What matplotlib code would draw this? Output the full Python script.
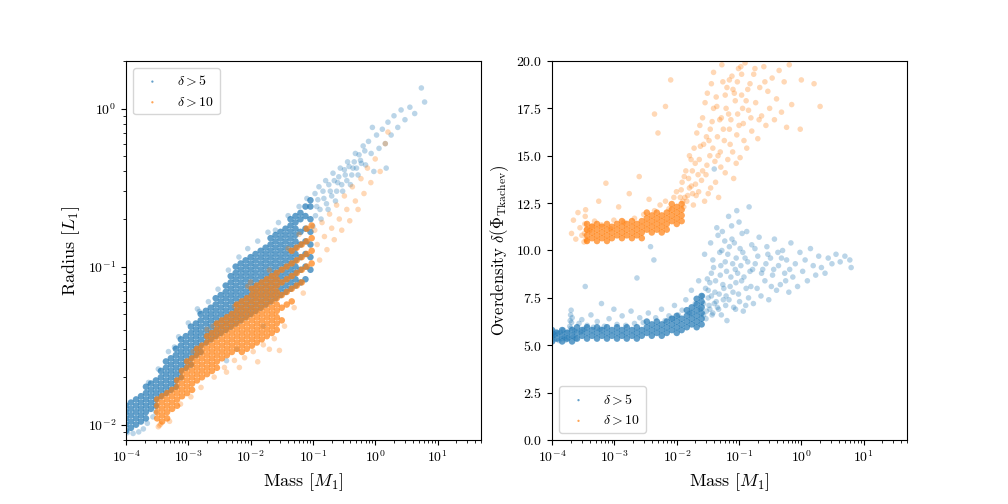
import matplotlib
matplotlib.use('Agg')
import matplotlib.pyplot as plt

# ---- values ----
# dense parts of the clouds: (mass [M_1], [values at that mass])
# sparse parts: plain (mass, value) points

# left panel, delta > 5: radius [L_1]
radius_d5_band = [
    (1.00e-4, [0.00912, 0.0100, 0.01096, 0.01202, 0.01318]),
    (1.20e-4, [0.00955, 0.01047, 0.01148, 0.01259, 0.0138]),
    (1.45e-4, [0.0100, 0.01096, 0.01202, 0.01318, 0.01445]),
    (1.74e-4, [0.01047, 0.01148, 0.01259, 0.0138, 0.01514]),
    (2.09e-4, [0.01096, 0.01202, 0.01318, 0.01445, 0.01585, 0.01738]),
    (2.51e-4, [0.01259, 0.0138, 0.01514, 0.0166, 0.0182]),
    (3.02e-4, [0.01318, 0.01445, 0.01585, 0.01738, 0.01905]),
    (3.63e-4, [0.01514, 0.0166, 0.0182, 0.01995, 0.02188]),
    (4.37e-4, [0.01585, 0.01738, 0.01905, 0.02089, 0.02291, 0.02512]),
    (5.25e-4, [0.0166, 0.0182, 0.01995, 0.02188, 0.02399, 0.0263]),
    (6.31e-4, [0.01738, 0.01905, 0.02089, 0.02291, 0.02512, 0.02754, 0.0302]),
    (7.59e-4, [0.01995, 0.02188, 0.02399, 0.0263, 0.02884, 0.03162, 0.03467]),
    (9.12e-4, [0.02291, 0.02512, 0.02754, 0.0302, 0.03311, 0.03631]),
    (1.10e-3, [0.02399, 0.0263, 0.02884, 0.03162, 0.03467, 0.03802, 0.04169]),
    (1.32e-3, [0.02754, 0.0302, 0.03311, 0.03631, 0.03981, 0.04365]),
    (1.58e-3, [0.02884, 0.03162, 0.03467, 0.03802, 0.04169, 0.04571, 0.05012]),
    (1.91e-3, [0.03311, 0.03631, 0.03981, 0.04365, 0.04786, 0.05248]),
    (2.29e-3, [0.03467, 0.03802, 0.04169, 0.04571, 0.05012, 0.05495]),
    (2.75e-3, [0.03631, 0.03981, 0.04365, 0.04786, 0.05248, 0.05754, 0.0631]),
    (3.31e-3, [0.03802, 0.04169, 0.04571, 0.05012, 0.05495, 0.06026, 0.06607]),
    (3.98e-3, [0.03981, 0.04365, 0.04786, 0.05248, 0.05754, 0.0631, 0.06918,
               0.07586]),
    (4.79e-3, [0.04169, 0.04571, 0.05012, 0.05495, 0.06026, 0.06607, 0.07244,
               0.07943, 0.0871]),
    (5.75e-3, [0.04365, 0.04786, 0.05248, 0.05754, 0.0631, 0.06918, 0.07586,
               0.08318, 0.0912, 0.1000]),
    (6.92e-3, [0.04571, 0.05012, 0.05495, 0.06026, 0.06607, 0.07244, 0.07943,
               0.0871, 0.0955, 0.1047]),
    (8.32e-3, [0.04786, 0.05248, 0.05754, 0.0631, 0.06918, 0.07586, 0.08318,
               0.0912, 0.1000, 0.1096]),
    (1.00e-2, [0.05012, 0.05495, 0.06026, 0.06607, 0.07244, 0.07943, 0.0871,
               0.0955, 0.1047, 0.1148]),
    (1.20e-2, [0.05248, 0.05754, 0.0631, 0.06918, 0.07586, 0.08318, 0.0912,
               0.1000, 0.1096, 0.1202]),
    (1.45e-2, [0.05495, 0.06026, 0.06607, 0.07244, 0.07943, 0.0871, 0.0955,
               0.1047, 0.1148, 0.1259]),
    (1.74e-2, [0.05754, 0.0631, 0.06918, 0.07586, 0.08318, 0.0912, 0.1000,
               0.1096, 0.1202, 0.1318]),
    (2.09e-2, [0.06026, 0.06607, 0.07244, 0.07943, 0.0871, 0.0955, 0.1047,
               0.1148, 0.1259, 0.138, 0.1514]),
    (2.51e-2, [0.0631, 0.06918, 0.07586, 0.08318, 0.0912, 0.1000, 0.1096,
               0.1202, 0.1318, 0.1445, 0.1585]),
    (3.02e-2, [0.06607, 0.07244, 0.07943, 0.0871, 0.0955, 0.1047, 0.1148,
               0.1259, 0.138, 0.1514, 0.166]),
    (3.63e-2, [0.06918, 0.07586, 0.08318, 0.0912, 0.1000, 0.1096, 0.1202,
               0.1318, 0.1445, 0.1585, 0.1738]),
    (4.37e-2, [0.07244, 0.07943, 0.0871, 0.0955, 0.1047, 0.1148, 0.1259,
               0.138, 0.1514, 0.166, 0.182, 0.1995]),
    (5.25e-2, [0.07586, 0.08318, 0.0912, 0.1000, 0.1096, 0.1202, 0.1318,
               0.1445, 0.1585, 0.1738, 0.1905, 0.2089]),
    (6.31e-2, [0.07943, 0.0955, 0.1148, 0.138, 0.166, 0.1995, 0.2188]),
    (7.59e-2, [0.08318, 0.1000, 0.1202, 0.1445, 0.1738, 0.2089, 0.2399]),
    (9.12e-2, [0.0955, 0.1148, 0.138, 0.166, 0.1995, 0.2399, 0.263]),
]
radius_d5_sparse = [
    (1.05e-4, 0.0089), (1.3e-4, 0.0088), (1.6e-4, 0.0090), (1.9e-4, 0.0094),
    (2.2e-4, 0.0102), (2.3e-4, 0.0185), (2.7e-4, 0.0112), (3.0e-4, 0.0120),
    (3.3e-4, 0.0225), (4.8e-4, 0.0290), (6.0e-4, 0.0310), (7.0e-4, 0.0360),
    (1.0e-3, 0.0440), (1.4e-3, 0.0540), (1.5e-3, 0.0520), (2.1e-3, 0.0600),
    (3.0e-3, 0.0720), (4.1e-3, 0.0254), (4.4e-3, 0.0950), (6.0e-3, 0.0300),
    (6.5e-3, 0.1150), (9.0e-3, 0.1300), (1.3e-2, 0.1450), (1.6e-2, 0.0420),
    (1.9e-2, 0.1650), (2.5e-2, 0.1700), (2.8e-2, 0.1900), (4.0e-2, 0.2100),
    (6.0e-2, 0.2400), (8.0e-2, 0.2700),
    (1.0e-1, 0.1800), (1.08e-1, 0.2900), (1.1e-1, 0.2100),
    (1.15e-1, 0.2400), (1.2e-1, 0.2650), (1.25e-1, 0.3200), (1.3e-1, 0.2300),
    (1.35e-1, 0.2000), (1.45e-1, 0.3000), (1.5e-1, 0.2700), (1.6e-1, 0.3500),
    (1.65e-1, 0.2500), (1.75e-1, 0.2300), (1.8e-1, 0.3300), (1.9e-1, 0.3000),
    (2.0e-1, 0.2800), (2.1e-1, 0.3900), (2.2e-1, 0.3500), (2.3e-1, 0.2600),
    (2.4e-1, 0.3000), (2.5e-1, 0.3400), (2.6e-1, 0.3700), (2.75e-1, 0.4200),
    (2.9e-1, 0.3300), (3.0e-1, 0.3000), (3.2e-1, 0.4100), (3.3e-1, 0.3800),
    (3.5e-1, 0.3500), (3.6e-1, 0.4600), (3.8e-1, 0.4300), (4.0e-1, 0.3300),
    (4.2e-1, 0.3800), (4.4e-1, 0.4200), (4.6e-1, 0.4600), (4.8e-1, 0.5200),
    (5.0e-1, 0.4200), (5.3e-1, 0.3800), (5.5e-1, 0.5100), (5.8e-1, 0.4700),
    (6.0e-1, 0.4500), (6.4e-1, 0.5800), (6.8e-1, 0.5400), (7.0e-1, 0.4400),
    (7.8e-1, 0.6200), (8.6e-1, 0.5200), (0.9, 0.7600), (9.5e-1, 0.4000),
    (1.05, 0.6800), (1.15, 0.5600), (1.3, 0.7400), (1.45, 0.6000), (1.5, 0.4200),
    (1.6, 0.8200), (1.8, 0.6800), (2.0, 0.9000), (2.3, 0.7600), (2.6, 0.9800),
    (3.0, 0.8500), (3.6, 1.0200), (4.3, 0.9300), (5.5, 1.3500), (6.2, 1.1000),
]

# left panel, delta > 10: radius [L_1]
radius_d10_band = [
    (3.16e-4, [0.01096, 0.01202, 0.01318, 0.01445]),
    (3.80e-4, [0.01047, 0.01148, 0.01259, 0.0138, 0.01514]),
    (4.57e-4, [0.01096, 0.01202, 0.01318, 0.01445, 0.01585]),
    (5.50e-4, [0.01259, 0.0138, 0.01514, 0.0166]),
    (6.61e-4, [0.01318, 0.01445, 0.01585, 0.01738, 0.01905]),
    (7.94e-4, [0.01514, 0.0166, 0.0182, 0.01995, 0.02188]),
    (9.55e-4, [0.01585, 0.01738, 0.01905, 0.02089, 0.02291, 0.02512]),
    (1.15e-3, [0.0166, 0.0182, 0.01995, 0.02188, 0.02399, 0.0263]),
    (1.38e-3, [0.01905, 0.02089, 0.02291, 0.02512, 0.02754, 0.0302]),
    (1.66e-3, [0.01995, 0.02188, 0.02399, 0.0263, 0.02884, 0.03162]),
    (2.00e-3, [0.02089, 0.02291, 0.02512, 0.02754, 0.0302, 0.03311, 0.03631]),
    (2.40e-3, [0.02188, 0.02399, 0.0263, 0.02884, 0.03162, 0.03467, 0.03802]),
    (2.88e-3, [0.02291, 0.02512, 0.02754, 0.0302, 0.03311, 0.03631, 0.03981,
               0.04365]),
    (3.47e-3, [0.0263, 0.02884, 0.03162, 0.03467, 0.03802, 0.04169, 0.04571]),
    (4.17e-3, [0.02754, 0.0302, 0.03311, 0.03631, 0.03981, 0.04365, 0.04786]),
    (5.01e-3, [0.02884, 0.03162, 0.03467, 0.03802, 0.04169, 0.04571, 0.05012]),
    (6.03e-3, [0.0302, 0.03311, 0.03631, 0.03981, 0.04365, 0.04786, 0.05248,
               0.05754]),
    (7.24e-3, [0.02884, 0.03162, 0.03467, 0.03802, 0.04169, 0.04571, 0.05012,
               0.05495, 0.06026]),
    (8.71e-3, [0.0302, 0.03311, 0.03631, 0.03981, 0.04365, 0.04786, 0.05248,
               0.05754, 0.0631]),
    (1.05e-2, [0.03162, 0.03467, 0.03802, 0.04169, 0.04571, 0.05012, 0.05495,
               0.06026, 0.06607, 0.07244]),
    (1.26e-2, [0.03311, 0.03631, 0.03981, 0.04365, 0.04786, 0.05248, 0.05754,
               0.0631, 0.06918, 0.07586]),
    (1.51e-2, [0.03467, 0.03802, 0.04169, 0.04571, 0.05012, 0.05495, 0.06026,
               0.06607, 0.07244, 0.07943]),
    (1.82e-2, [0.03631, 0.03981, 0.04365, 0.04786, 0.05248, 0.05754, 0.0631,
               0.06918, 0.07586, 0.08318]),
    (2.19e-2, [0.03802, 0.04169, 0.04571, 0.05012, 0.05495, 0.06026, 0.06607,
               0.07244, 0.07943, 0.0871]),
    (2.63e-2, [0.03981, 0.04365, 0.04786, 0.05248, 0.05754, 0.0631, 0.06918,
               0.07586, 0.08318, 0.0912]),
    (3.16e-2, [0.04571, 0.05495, 0.06607, 0.07943, 0.0955]),
    (3.80e-2, [0.05754, 0.06918, 0.08318, 0.1000]),
    (4.57e-2, [0.06026, 0.07244, 0.0871, 0.1047, 0.1259]),
    (5.50e-2, [0.07586, 0.0912, 0.1096, 0.1318]),
    (6.61e-2, [0.07943, 0.0955, 0.1148, 0.138]),
    (7.94e-2, [0.1000, 0.1202, 0.1445, 0.1738]),
    (9.55e-2, [0.1047, 0.1259, 0.1514, 0.182]),
]
radius_d10_sparse = [
    (3.3e-4, 0.0097), (3.45e-4, 0.0099), (3.6e-4, 0.0101), (5.0e-4, 0.0105),
    (7.5e-4, 0.0135), (1.1e-3, 0.0150), (1.2e-3, 0.0290), (1.6e-3, 0.0172),
    (2.0e-3, 0.0400), (2.5e-3, 0.0420), (2.6e-3, 0.0200), (3.8e-3, 0.0230),
    (4.1e-3, 0.0215), (5.5e-3, 0.0255), (5.5e-3, 0.0560), (6.6e-3, 0.0230),
    (8.0e-3, 0.0265), (9.0e-3, 0.0750), (1.0e-2, 0.0800), (1.1e-2, 0.0290),
    (1.3e-2, 0.0250), (1.6e-2, 0.0320), (2.0e-2, 0.0300), (2.0e-2, 0.0950),
    (2.4e-2, 0.0350), (2.9e-2, 0.0295), (3.5e-2, 0.0420), (4.0e-2, 0.1300),
    (5.0e-2, 0.0550), (6.0e-2, 0.1600), (7.0e-2, 0.0680),
    (1.07e-1, 0.1700), (1.17e-1, 0.1380),
    (1.28e-1, 0.1100), (1.4e-1, 0.1900), (1.53e-1, 0.1550), (1.68e-1, 0.1280),
    (1.85e-1, 0.2150), (2.0e-1, 0.1750), (2.2e-1, 0.1480), (2.4e-1, 0.2450),
    (2.65e-1, 0.2000), (2.9e-1, 0.1700), (3.2e-1, 0.2800), (3.5e-1, 0.2300),
    (3.9e-1, 0.1950), (4.3e-1, 0.3200), (4.8e-1, 0.2600), (5.3e-1, 0.2300),
    (5.9e-1, 0.3600), (6.6e-1, 0.2900), (7.5e-1, 0.4200), (8.5e-1, 0.3400),
    (1.0, 0.4800), (1.2, 0.4000), (1.45, 0.6000), (1.6, 0.7100),
]

# right panel, delta > 5: overdensity delta(Phi_Tkachev)
overdens_d5_band = [
    (1.00e-4, [5.2, 5.5, 5.8]), (1.20e-4, [5.35, 5.65]),
    (1.45e-4, [5.2, 5.5, 5.8]), (1.74e-4, [5.35, 5.65]),
    (2.09e-4, [5.2, 5.5, 5.8]), (2.51e-4, [5.35, 5.65, 5.95]),
    (3.02e-4, [5.5, 5.8]), (3.63e-4, [5.35, 5.65, 5.95]),
    (4.37e-4, [5.5, 5.8]), (5.25e-4, [5.35, 5.65, 5.95]),
    (6.31e-4, [5.5, 5.8]), (7.59e-4, [5.35, 5.65, 5.95]),
    (9.12e-4, [5.5, 5.8]), (1.10e-3, [5.35, 5.65, 5.95]),
    (1.32e-3, [5.5, 5.8]), (1.58e-3, [5.35, 5.65, 5.95]),
    (1.91e-3, [5.5, 5.8]), (2.29e-3, [5.35, 5.65, 5.95]),
    (2.75e-3, [5.5, 5.8]), (3.31e-3, [5.65, 5.95, 6.25]),
    (3.98e-3, [5.5, 5.8, 6.1]), (4.79e-3, [5.65, 5.95, 6.25]),
    (5.75e-3, [5.5, 5.8, 6.1]), (6.92e-3, [5.65, 5.95, 6.25]),
    (8.32e-3, [5.8, 6.1, 6.4]), (1.00e-2, [5.65, 5.95, 6.25, 6.55]),
    (1.20e-2, [5.8, 6.1, 6.4]), (1.45e-2, [5.95, 6.25, 6.55, 6.85]),
    (1.74e-2, [6.1, 6.4, 6.7, 7.0]),
    (2.09e-2, [5.95, 6.25, 6.55, 6.85, 7.15, 7.45]),
    (2.51e-2, [6.1, 6.4, 6.7, 7.0, 7.3, 7.6]),
]
overdens_d5_sparse = [
    (1.02e-4, 5.45), (1.05e-4, 5.62), (1.08e-4, 5.30), (1.12e-4, 5.55),
    (1.15e-4, 5.72), (1.24e-4, 5.60), (1.28e-4, 5.25), (1.37e-4, 5.68),
    (1.42e-4, 5.35), (1.52e-4, 5.80), (1.57e-4, 5.44), (1.67e-4, 5.28),
    (1.78e-4, 5.70), (1.83e-4, 5.40), (1.92e-4, 6.00), (1.95e-4, 6.30),
    (1.98e-4, 6.60), (2.0e-4, 5.90), (2.02e-4, 6.85), (2.05e-4, 6.20),
    (2.1e-4, 6.45), (2.2e-4, 5.45), (2.3e-4, 5.75), (2.4e-4, 5.35),
    (2.7e-4, 6.15), (2.9e-4, 5.70), (3.0e-4, 6.35), (3.25e-4, 5.85),
    (3.4e-4, 8.10), (3.65e-4, 6.05), (4.2e-4, 6.60), (4.6e-4, 5.95),
    (5.3e-4, 6.25), (5.9e-4, 5.85), (6.2e-4, 7.20), (6.9e-4, 6.00),
    (8.2e-4, 6.40), (9.8e-4, 6.90), (1.1e-3, 6.10), (1.33e-3, 6.55),
    (1.52e-3, 6.05), (1.85e-3, 6.80), (2.1e-3, 6.15), (2.3e-3, 8.55),
    (2.55e-3, 6.45), (2.9e-3, 6.20), (3.5e-3, 6.70), (3.8e-3, 10.20),
    (4.3e-3, 9.50), (4.6e-3, 6.45), (5.7e-3, 6.90), (6.5e-3, 6.30),
    (7.5e-3, 6.55), (8.6e-3, 6.40), (9.2e-3, 7.10), (1.06e-2, 6.60),
    (1.22e-2, 6.85), (1.4e-2, 7.40), (1.6e-2, 6.70), (1.72e-2, 7.90),
    (1.98e-2, 7.20), (2.25e-2, 8.40), (2.4e-2, 6.90), (2.6e-2, 7.60),
    (2.7e-2, 6.60), (2.7e-2, 7.20), (2.8e-2, 9.80), (2.9e-2, 8.00),
    (2.95e-2, 6.40), (3.0e-2, 6.80), (3.1e-2, 8.50), (3.2e-2, 7.90),
    (3.2e-2, 7.50), (3.3e-2, 7.10), (3.4e-2, 6.90), (3.4e-2, 8.30),
    (3.5e-2, 10.40), (3.6e-2, 8.80), (3.6e-2, 7.60), (3.7e-2, 6.60),
    (3.8e-2, 6.70), (3.8e-2, 9.50), (3.9e-2, 9.10), (4.0e-2, 14.30),
    (4.0e-2, 7.20), (4.1e-2, 7.80), (4.2e-2, 8.40), (4.3e-2, 7.30),
    (4.4e-2, 11.20), (4.5e-2, 7.00), (4.6e-2, 10.80), (4.7e-2, 6.90),
    (4.8e-2, 7.70), (4.9e-2, 9.90), (5.0e-2, 8.70), (5.1e-2, 9.20),
    (5.2e-2, 6.60), (5.3e-2, 10.00), (5.4e-2, 11.00), (5.5e-2, 8.20),
    (5.6e-2, 7.40), (5.7e-2, 8.00), (5.9e-2, 10.50), (6.0e-2, 9.40),
    (6.1e-2, 7.10), (6.2e-2, 7.60), (6.3e-2, 8.90), (6.4e-2, 6.30),
    (6.6e-2, 9.80), (6.8e-2, 11.80), (6.9e-2, 7.40), (7.0e-2, 10.20),
    (7.2e-2, 8.10), (7.4e-2, 8.60), (7.6e-2, 11.30), (7.7e-2, 10.60),
    (7.9e-2, 9.30), (8.0e-2, 7.80), (8.2e-2, 7.00), (8.4e-2, 10.40),
    (8.7e-2, 9.00), (8.8e-2, 6.90), (8.9e-2, 8.30), (9.0e-2, 9.60),
    (9.2e-2, 12.10), (9.5e-2, 8.80), (9.8e-2, 7.70), (1.0e-1, 11.50),
    (1.02e-1, 7.30), (1.04e-1, 10.10), (1.07e-1, 9.20), (1.1e-1, 8.40),
    (1.12e-1, 10.90), (1.15e-1, 9.90), (1.17e-1, 6.80), (1.2e-1, 8.60),
    (1.25e-1, 9.60), (1.28e-1, 7.10), (1.3e-1, 8.00), (1.33e-1, 11.00),
    (1.38e-1, 9.40), (1.42e-1, 7.50), (1.45e-1, 12.30), (1.5e-1, 8.90),
    (1.55e-1, 8.10), (1.6e-1, 10.30), (1.65e-1, 9.00), (1.7e-1, 7.20),
    (1.8e-1, 10.10), (1.82e-1, 9.30), (1.95e-1, 8.00), (2.0e-1, 9.70),
    (2.1e-1, 10.70), (2.25e-1, 7.60), (2.3e-1, 8.80), (2.4e-1, 9.00),
    (2.6e-1, 8.40), (2.7e-1, 9.30), (2.8e-1, 10.20), (2.9e-1, 9.80),
    (3.0e-1, 7.40), (3.2e-1, 9.60), (3.3e-1, 8.10), (3.45e-1, 8.70),
    (3.6e-1, 9.00), (3.7e-1, 10.60), (4.0e-1, 7.90), (4.2e-1, 9.90),
    (4.3e-1, 9.20), (4.6e-1, 8.20), (4.8e-1, 9.60), (5.0e-1, 10.00),
    (5.4e-1, 8.80), (5.6e-1, 8.40), (5.8e-1, 9.50), (6.3e-1, 7.80),
    (6.5e-1, 9.00), (6.8e-1, 10.40), (7.3e-1, 8.60), (8.0e-1, 9.30),
    (8.7e-1, 8.10), (9.5e-1, 9.90), (1.05, 8.90), (1.15, 9.50), (1.25, 8.40),
    (1.4, 10.10), (1.55, 9.20), (1.7, 8.70), (1.9, 9.70), (2.1, 9.10),
    (2.4, 8.80), (2.7, 9.60), (3.1, 9.30), (3.6, 9.80), (4.2, 9.40),
    (5.0, 9.70), (6.0, 9.50), (6.3, 9.10),
]

# right panel, delta > 10: overdensity delta(Phi_Tkachev)
overdens_d10_band = [
    (3.63e-4, [10.5, 10.8, 11.1, 11.4]), (4.37e-4, [10.65, 10.95, 11.25]),
    (5.25e-4, [10.5, 10.8, 11.1, 11.4]), (6.31e-4, [10.65, 10.95, 11.25]),
    (7.59e-4, [10.5, 10.8, 11.1, 11.4]), (9.12e-4, [10.65, 10.95, 11.25]),
    (1.10e-3, [10.8, 11.1, 11.4]), (1.32e-3, [10.65, 10.95, 11.25, 11.55]),
    (1.58e-3, [10.8, 11.1, 11.4]), (1.91e-3, [10.65, 10.95, 11.25, 11.55]),
    (2.29e-3, [10.8, 11.1, 11.4]), (2.75e-3, [10.65, 10.95, 11.25, 11.55]),
    (3.31e-3, [11.1, 11.4, 11.7, 12.0]), (3.98e-3, [10.95, 11.25, 11.55, 11.85]),
    (4.79e-3, [11.1, 11.4, 11.7, 12.0]), (5.75e-3, [10.95, 11.25, 11.55, 11.85]),
    (6.92e-3, [11.1, 11.4, 11.7, 12.0]), (8.32e-3, [11.55, 11.85, 12.15, 12.45]),
    (1.00e-2, [11.4, 11.7, 12.0, 12.3]), (1.20e-2, [11.55, 11.85, 12.15, 12.45]),
]
overdens_d10_sparse = [
    (2.05e-4, 10.90), (2.2e-4, 11.60), (2.4e-4, 10.60), (2.6e-4, 12.00),
    (2.8e-4, 11.20), (3.0e-4, 10.80), (3.25e-4, 10.45), (3.3e-4, 10.90),
    (3.35e-4, 11.40), (3.4e-4, 11.80), (3.45e-4, 12.15), (3.5e-4, 10.60),
    (3.55e-4, 11.10), (3.6e-4, 10.50), (4.0e-4, 11.05), (4.4e-4, 11.30),
    (4.8e-4, 11.55), (5.6e-4, 12.60), (6.2e-4, 11.35), (7.3e-4, 13.55),
    (8.7e-4, 11.15), (9.8e-4, 11.60), (1.17e-3, 12.30), (1.42e-3, 11.50),
    (1.73e-3, 13.00), (2.1e-3, 11.70), (2.5e-3, 13.90), (2.95e-3, 11.90),
    (3.6e-3, 12.70), (4.4e-3, 17.20), (4.4e-3, 12.10), (5.0e-3, 16.20),
    (5.4e-3, 12.40), (6.6e-3, 17.60), (6.6e-3, 12.60), (7.5e-3, 12.20),
    (8.0e-3, 19.00), (9.0e-3, 12.80), (9.9e-3, 13.10), (1.14e-2, 12.80),
    (1.18e-2, 13.20), (1.22e-2, 13.60), (1.25e-2, 12.60), (1.3e-2, 12.30),
    (1.32e-2, 13.90), (1.35e-2, 12.80), (1.4e-2, 14.20), (1.45e-2, 12.60),
    (1.5e-2, 12.90), (1.55e-2, 13.80), (1.6e-2, 15.00), (1.6e-2, 13.30),
    (1.7e-2, 14.80), (1.72e-2, 13.40), (1.78e-2, 14.20), (1.8e-2, 13.00),
    (1.85e-2, 12.40), (1.9e-2, 15.40), (1.98e-2, 14.60), (2.0e-2, 13.50),
    (2.05e-2, 12.90), (2.1e-2, 16.20), (2.2e-2, 14.00), (2.25e-2, 13.10),
    (2.3e-2, 14.80), (2.35e-2, 16.60), (2.4e-2, 15.50), (2.5e-2, 13.70),
    (2.6e-2, 17.00), (2.6e-2, 14.20), (2.7e-2, 15.60), (2.8e-2, 12.60),
    (2.85e-2, 17.80), (2.95e-2, 14.00), (3.0e-2, 16.00), (3.05e-2, 14.50),
    (3.1e-2, 18.30), (3.2e-2, 13.00), (3.3e-2, 15.80), (3.4e-2, 15.00),
    (3.45e-2, 16.40), (3.5e-2, 13.30), (3.6e-2, 18.80), (3.7e-2, 16.80),
    (3.8e-2, 15.40), (3.9e-2, 19.40), (3.9e-2, 17.50), (4.1e-2, 14.70),
    (4.2e-2, 13.60), (4.3e-2, 18.10), (4.4e-2, 17.60), (4.5e-2, 16.00),
    (4.6e-2, 15.00), (4.7e-2, 12.80), (4.9e-2, 16.90), (5.0e-2, 15.20),
    (5.1e-2, 14.40), (5.2e-2, 17.00), (5.3e-2, 19.80), (5.5e-2, 18.90),
    (5.6e-2, 16.40), (5.8e-2, 15.80), (6.0e-2, 14.10), (6.0e-2, 18.20),
    (6.2e-2, 17.50), (6.4e-2, 18.60), (6.6e-2, 14.80), (6.8e-2, 17.20),
    (7.0e-2, 16.40), (7.0e-2, 19.00), (7.2e-2, 15.60), (7.4e-2, 16.90),
    (7.7e-2, 19.20), (7.9e-2, 15.20), (8.0e-2, 18.50), (8.2e-2, 13.80),
    (8.4e-2, 18.30), (8.7e-2, 17.90), (9.0e-2, 14.60), (9.2e-2, 16.10),
    (9.4e-2, 18.90), (9.5e-2, 17.20), (9.8e-2, 19.60), (1.0e-1, 16.60),
    (1.04e-1, 14.90), (1.07e-1, 19.70), (1.1e-1, 18.20), (1.1e-1, 19.30),
    (1.14e-1, 17.50), (1.17e-1, 16.70), (1.2e-1, 15.80), (1.25e-1, 19.90),
    (1.3e-1, 17.90), (1.33e-1, 15.40), (1.38e-1, 18.50), (1.42e-1, 17.40),
    (1.5e-1, 18.80), (1.55e-1, 17.00), (1.6e-1, 16.30), (1.72e-1, 19.30),
    (1.8e-1, 19.60), (1.85e-1, 17.80), (2.0e-1, 15.90), (2.1e-1, 16.90),
    (2.15e-1, 18.60), (2.3e-1, 17.10), (2.5e-1, 19.70), (2.6e-1, 18.90),
    (2.7e-1, 16.60), (2.9e-1, 18.40), (3.1e-1, 17.50), (3.4e-1, 19.10),
    (3.7e-1, 16.90), (4.0e-1, 18.00), (4.4e-1, 19.50), (4.8e-1, 17.30),
    (5.3e-1, 18.90), (5.8e-1, 16.50), (6.4e-1, 19.80), (7.0e-1, 17.70),
    (9.6e-1, 16.40), (1.0, 19.00), (1.6, 18.80), (2.0, 17.60),
]

labels = [r'$\delta > 5$', r'$\delta > 10$']
colors = ['C0', 'C1']


def unpack_band(band):
    # (mass, [values]) columns into two plain lists
    xs, ys = [], []
    for m, vals in band:
        for v in vals:
            xs.append(m)
            ys.append(v)
    return xs, ys


plt.rcParams['font.family'] = 'serif'
plt.rcParams['font.serif'] = ['cmr10']
plt.rcParams['mathtext.fontset'] = 'cm'
plt.rcParams['axes.formatter.use_mathtext'] = True
plt.rcParams['axes.unicode_minus'] = True

fig, (ax1, ax2) = plt.subplots(1, 2, figsize=(10.08, 5.04), dpi=100)
fig.subplots_adjust(left=0.125, right=0.9, bottom=0.127, top=0.879, wspace=0.2)

panels = [
    (ax1, [(radius_d5_band, radius_d5_sparse),
           (radius_d10_band, radius_d10_sparse)]),
    (ax2, [(overdens_d5_band, overdens_d5_sparse),
           (overdens_d10_band, overdens_d10_sparse)]),
]
for ax, series in panels:
    for (band, sparse), lab, col in zip(series, labels, colors):
        bx, by = unpack_band(band)
        ax.scatter(bx, by, s=22, alpha=0.7, color=col, label=lab,
                   edgecolors='none')
        sx, sy = zip(*sparse)
        ax.scatter(sx, sy, s=16, alpha=0.3, color=col, edgecolors='none')

# left panel: radius vs mass
ax1.set_xscale('log')
ax1.set_yscale('log')
ax1.set_xlim(1e-4, 50)
ax1.set_ylim(8e-3, 2)
ax1.set_xlabel(r'Mass $[M_1]$', fontsize=13)
ax1.set_ylabel(r'Radius $[L_1]$', fontsize=13)
ax1.legend(loc='upper left', fontsize=10, markerscale=0.35)

# right panel: overdensity vs mass
ax2.set_xscale('log')
ax2.set_xlim(1e-4, 50)
ax2.set_ylim(0, 20)
ax2.set_xlabel(r'Mass $[M_1]$', fontsize=13)
ax2.set_ylabel(r'Overdensity $\delta(\Phi_{\rm Tkachev})$', fontsize=12)
ax2.legend(loc='lower left', fontsize=10, markerscale=0.35)

fig.savefig('out.png', dpi=100)
